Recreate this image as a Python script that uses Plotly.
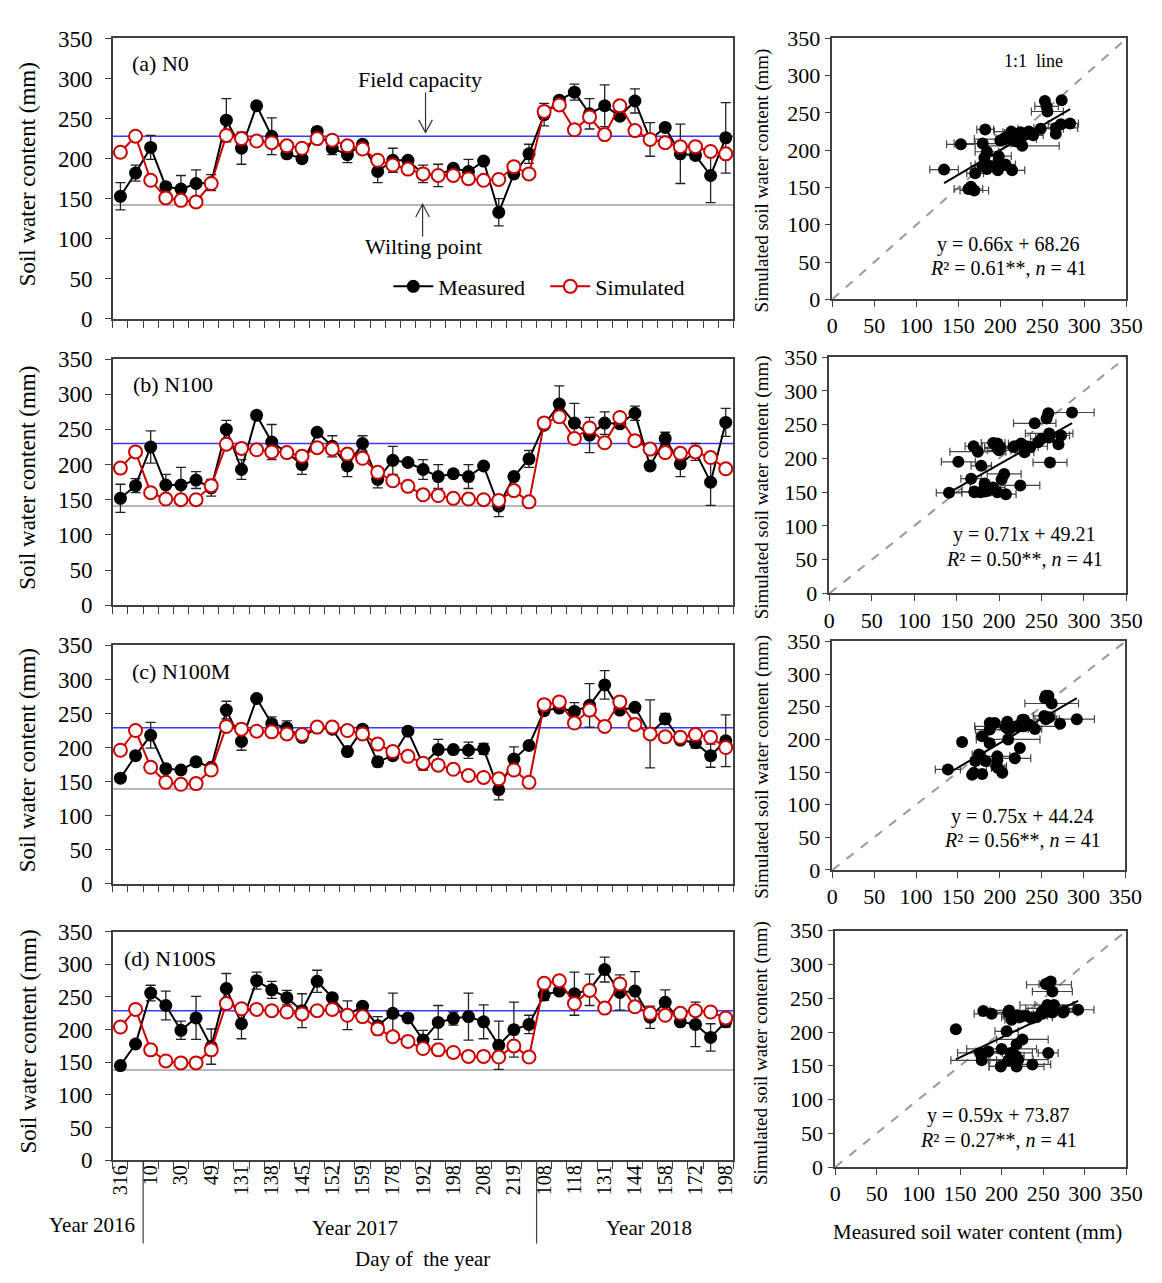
import plotly.graph_objects as go

W, H = 1162, 1283

# ---------------- data ----------------
SAMPLE_INDEX = list(range(1, 42))
DAY_LABELS = ["316", "10", "30", "49", "131", "138", "145", "152", "159", "178", "192",
              "198", "208", "219", "108", "118", "131", "144", "158", "172", "198"]
YEAR_BOUNDARIES = [2.5, 28.5]

N0_MEAS = [153, 182, 214, 165, 162, 169, 170, 248, 213, 266, 228, 206, 200, 234, 213, 205, 218, 184, 198, 198,
           181, 179, 188, 184, 197, 133, 181, 206, 255, 273, 283, 256, 266, 253, 272, 224, 239, 206, 204, 179, 226]
N0_SIM = [208, 228, 173, 151, 148, 146, 169, 229, 225, 222, 220, 216, 213, 225, 223, 216, 212, 198, 192, 187,
          181, 179, 179, 175, 173, 174, 190, 181, 259, 267, 236, 252, 230, 266, 235, 224, 220, 215, 215, 209, 206]
N0_SD = [17, 10, 15, 3, 17, 17, 10, 27, 20, 3, 23, 5, 3, 5, 8, 10, 4, 14, 15, 3,
         11, 14, 3, 15, 3, 17, 3, 12, 14, 3, 10, 19, 26, 3, 15, 21, 3, 37, 5, 34, 44]

N100_MEAS = [152, 170, 225, 171, 171, 178, 167, 250, 193, 270, 232, 217, 200, 246, 226, 198, 230, 179, 206, 203,
             193, 183, 187, 183, 198, 141, 183, 208, 256, 286, 259, 242, 259, 258, 273, 198, 237, 201, 218, 175, 260]
N100_SIM = [195, 218, 160, 151, 150, 150, 170, 229, 223, 221, 218, 217, 212, 224, 222, 215, 209, 189, 177, 169,
            157, 156, 152, 151, 150, 149, 163, 147, 259, 268, 237, 252, 231, 267, 234, 222, 217, 216, 218, 210, 194]
N100_SD = [20, 10, 23, 15, 25, 12, 12, 13, 14, 5, 25, 3, 14, 3, 15, 15, 11, 12, 20, 3,
           14, 17, 3, 17, 3, 15, 3, 12, 3, 26, 28, 25, 16, 5, 10, 5, 9, 18, 12, 33, 20]

N100M_MEAS = [155, 188, 218, 169, 167, 179, 171, 255, 209, 272, 235, 229, 215, 229, 227, 194, 227, 179, 188, 224,
              175, 197, 197, 196, 198, 138, 183, 203, 254, 258, 253, 262, 292, 255, 259, 220, 242, 211, 207, 188, 210]
N100M_SIM = [196, 225, 171, 149, 146, 147, 167, 231, 227, 224, 223, 220, 219, 230, 230, 225, 220, 205, 194, 187,
             177, 174, 168, 159, 156, 154, 167, 149, 263, 267, 236, 255, 231, 267, 234, 220, 216, 215, 219, 215, 200]
N100M_SD = [5, 3, 19, 3, 3, 3, 3, 13, 13, 3, 10, 10, 3, 5, 3, 3, 3, 7, 3, 3,
            8, 15, 3, 12, 8, 15, 18, 3, 3, 3, 13, 32, 21, 5, 3, 50, 8, 3, 8, 17, 38]

N100S_MEAS = [145, 178, 256, 237, 199, 218, 174, 263, 209, 275, 261, 249, 229, 274, 249, 222, 236, 206, 225, 218,
              184, 211, 217, 220, 212, 176, 200, 208, 253, 259, 255, 261, 292, 257, 259, 219, 242, 212, 208, 188, 212]
N100S_SIM = [204, 231, 169, 152, 149, 149, 169, 240, 232, 231, 229, 227, 224, 229, 231, 222, 220, 201, 189, 182,
             171, 169, 165, 159, 159, 158, 175, 158, 271, 275, 240, 260, 233, 270, 235, 225, 222, 225, 229, 227, 218]
N100S_SD = [3, 3, 12, 22, 14, 33, 27, 23, 23, 13, 13, 11, 26, 17, 3, 22, 3, 14, 31, 5,
            15, 26, 10, 36, 26, 37, 42, 14, 8, 5, 33, 24, 19, 27, 30, 17, 19, 3, 34, 21, 8]

PANEL_LABELS = ["(a) N0", "(b) N100", "(c) N100M", "(d) N100S"]
SLOPES = [0.66, 0.71, 0.75, 0.59]
INTERCEPTS = [68.26, 49.21, 44.24, 73.87]
R2_TEXT = ["0.61", "0.50", "0.56", "0.27"]
N_OBS = 41
FIELD_CAPACITY = [228, 230, 229, 229]
WILTING_POINT = [142, 141, 139, 138]
ONE_TO_ONE = [0, 350]

MEAS = [N0_MEAS, N100_MEAS, N100M_MEAS, N100S_MEAS]
SIM = [N0_SIM, N100_SIM, N100M_SIM, N100S_SIM]
SD = [N0_SD, N100_SD, N100M_SD, N100S_SD]

# ---------------- layout geometry (pixels) ----------------
TS_X = (109, 742)
TS_Y = [(27, 313), (354, 605), (646, 889), (938, 1171)]
SC_X = [(843, 1143), (840, 1143), (843, 1142), (846, 1143)]
SC_Y = [(27, 293), (352, 593), (642, 875), (937, 1178)]


def fx(px):
    return px / W


def fy(py):
    return 1 - py / H


def ax_id(n):
    return "" if n == 1 else str(n)


FONT = "Liberation Serif, Times New Roman, serif"
RED = "#cc0000"
AX_COLOR = "#404040"

fig = go.Figure()
layout = dict(
    width=W, height=H, margin=dict(l=0, r=0, t=0, b=0),
    paper_bgcolor="white", plot_bgcolor="white",
    font=dict(family=FONT, size=22, color="black"),
    showlegend=True,
)
shapes = []
annotations = []

yticks = list(range(0, 351, 50))

for i in range(4):
    tsn = 2 * i + 1
    scn = 2 * i + 2
    xa_ts, ya_ts = f"x{ax_id(tsn)}", f"y{ax_id(tsn)}"
    xa_sc, ya_sc = f"x{ax_id(scn)}", f"y{ax_id(scn)}"

    # --- time series axes ---
    layout[f"xaxis{ax_id(tsn)}"] = dict(
        domain=[fx(TS_X[0]), fx(TS_X[1])], anchor=ya_ts, range=[0.5, 41.5],
        tickmode="array", tickvals=[k + 0.5 for k in range(42)], showticklabels=False,
        ticks="outside", ticklen=7, tickcolor=AX_COLOR, tickwidth=1,
        showline=True, mirror=True, linecolor=AX_COLOR, linewidth=1.5,
        showgrid=False, zeroline=False)
    layout[f"yaxis{ax_id(tsn)}"] = dict(
        domain=[fy(TS_Y[i][1]), fy(TS_Y[i][0])], anchor=xa_ts, range=[0, 350],
        tickmode="array", tickvals=yticks, ticks="outside", ticklen=6,
        tickcolor=AX_COLOR, tickfont=dict(size=23), ticklabelstandoff=8,
        showline=True, mirror=True, linecolor=AX_COLOR, linewidth=1.5,
        showgrid=False, zeroline=False)

    # --- scatter axes ---
    layout[f"xaxis{ax_id(scn)}"] = dict(
        domain=[fx(SC_X[i][0]), fx(SC_X[i][1])], anchor=ya_sc, range=[0, 350],
        tickmode="array", tickvals=yticks, ticks="outside", ticklen=6,
        tickcolor=AX_COLOR, tickfont=dict(size=22),
        showline=True, mirror=True, linecolor=AX_COLOR, linewidth=1.5,
        showgrid=False, zeroline=False)
    layout[f"yaxis{ax_id(scn)}"] = dict(
        domain=[fy(SC_Y[i][1]), fy(SC_Y[i][0])], anchor=xa_sc, range=[0, 350],
        tickmode="array", tickvals=yticks, ticks="outside", ticklen=6,
        tickcolor=AX_COLOR, tickfont=dict(size=22),
        showline=True, mirror=True, linecolor=AX_COLOR, linewidth=1.5,
        showgrid=False, zeroline=False)

    # --- reference lines ---
    shapes.append(dict(type="line", xref=f"{xa_ts} domain", yref=ya_ts, x0=0, x1=1,
                       y0=FIELD_CAPACITY[i], y1=FIELD_CAPACITY[i],
                       line=dict(color="#3a3aff", width=1.5), layer="below"))
    shapes.append(dict(type="line", xref=f"{xa_ts} domain", yref=ya_ts, x0=0, x1=1,
                       y0=WILTING_POINT[i], y1=WILTING_POINT[i],
                       line=dict(color="#b8b8b8", width=2), layer="below"))

    # --- time series traces ---
    fig.add_trace(go.Scatter(
        x=SAMPLE_INDEX, y=MEAS[i], mode="lines+markers", name="Measured",
        xaxis=xa_ts, yaxis=ya_ts, showlegend=(i == 0), legendgroup="m",
        line=dict(color="black", width=2),
        marker=dict(color="black", size=13, symbol="circle"),
        error_y=dict(type="data", array=SD[i], visible=True, color="#222222",
                     thickness=1.3, width=5)))
    fig.add_trace(go.Scatter(
        x=SAMPLE_INDEX, y=SIM[i], mode="lines+markers", name="Simulated",
        xaxis=xa_ts, yaxis=ya_ts, showlegend=(i == 0), legendgroup="s",
        line=dict(color=RED, width=2),
        marker=dict(color="white", size=13, symbol="circle",
                    line=dict(color=RED, width=2))))

    # --- scatter traces ---
    fig.add_trace(go.Scatter(
        x=ONE_TO_ONE, y=ONE_TO_ONE, mode="lines", xaxis=xa_sc, yaxis=ya_sc,
        showlegend=False, line=dict(color="#999999", width=2, dash="dash"),
        hoverinfo="skip"))
    fig.add_trace(go.Scatter(
        x=MEAS[i], y=SIM[i], mode="markers", xaxis=xa_sc, yaxis=ya_sc,
        showlegend=False, marker=dict(color="black", size=12),
        error_x=dict(type="data", array=SD[i], visible=True, color="#444444",
                     thickness=1.2, width=4)))
    xmin, xmax = min(MEAS[i]), max(MEAS[i])
    fig.add_trace(go.Scatter(
        x=[xmin, xmax], y=[SLOPES[i] * xmin + INTERCEPTS[i], SLOPES[i] * xmax + INTERCEPTS[i]],
        mode="lines", xaxis=xa_sc, yaxis=ya_sc, showlegend=False,
        line=dict(color="black", width=2), hoverinfo="skip"))

    # --- text ---
    lab_pos = [(127, 53), (128, 380), (127, 673), (118, 965)][i]
    annotations.append(dict(text=PANEL_LABELS[i], x=fx(lab_pos[0]), y=fy(lab_pos[1]),
                            xref="paper", yref="paper", xanchor="left", yanchor="middle",
                            showarrow=False, font=dict(size=22)))
    annotations.append(dict(text="Soil water content (mm)", x=fx(22),
                            y=fy((TS_Y[i][0] + TS_Y[i][1]) / 2 - 4),
                            xref="paper", yref="paper", textangle=-90, showarrow=False,
                            xanchor="center", yanchor="middle", font=dict(size=23)))
    annotations.append(dict(text="Simulated soil water content (mm)", x=fx(771),
                            y=fy([172, 485, 770, 1062][i]),
                            xref="paper", yref="paper", textangle=-90, showarrow=False,
                            xanchor="center", yanchor="middle", font=dict(size=19)))
    eq_pos = [(1023, 237, 261), (1039, 533, 558), (1037, 820, 844), (1013, 1125, 1150)][i]
    annotations.append(dict(text=f"y = {SLOPES[i]:.2f}x + {INTERCEPTS[i]:.2f}",
                            x=fx(eq_pos[0]), y=fy(eq_pos[1]), xref="paper", yref="paper",
                            showarrow=False, xanchor="center", yanchor="middle",
                            font=dict(size=20)))
    annotations.append(dict(text=f"<i>R</i>² = {R2_TEXT[i]}**, <i>n</i> = {N_OBS}",
                            x=fx(eq_pos[0]), y=fy(eq_pos[2]), xref="paper", yref="paper",
                            showarrow=False, xanchor="center", yanchor="middle",
                            font=dict(size=20)))

# overlay axis carrying day-of-year labels on the bottom panel
layout["xaxis9"] = dict(
    overlaying="x7", anchor="y7", range=[0.5, 41.5], tickmode="array",
    tickvals=SAMPLE_INDEX[::2], ticktext=DAY_LABELS, tickangle=-90,
    ticks="", showline=False, showgrid=False, zeroline=False,
    tickfont=dict(size=20))
fig.add_trace(go.Scatter(x=[1], y=[0], xaxis="x9", yaxis="y7", mode="markers",
                         marker=dict(opacity=0), showlegend=False, hoverinfo="skip"))

# year separators
for xb in YEAR_BOUNDARIES:
    shapes.append(dict(type="line", xref="x7", yref="paper", x0=xb, x1=xb,
                       y0=fy(1171), y1=fy(1256), line=dict(color=AX_COLOR, width=1.2)))


# arrows for field capacity / wilting point
def vpath(points):
    return "M " + " L ".join(f"{fx(a):.5f},{fy(b):.5f}" for a, b in points)


shapes.append(dict(type="path", xref="paper", yref="paper", path=vpath([(428, 82), (428, 123)]),
                   line=dict(color="#333", width=1.2)))
shapes.append(dict(type="path", xref="paper", yref="paper",
                   path=vpath([(421, 110), (428, 123), (435, 110)]), line=dict(color="#333", width=1.2)))
shapes.append(dict(type="path", xref="paper", yref="paper", path=vpath([(425, 229), (425, 196)]),
                   line=dict(color="#333", width=1.2)))
shapes.append(dict(type="path", xref="paper", yref="paper",
                   path=vpath([(418, 209), (425, 196), (432, 209)]), line=dict(color="#333", width=1.2)))

extra_text = [
    ("Field capacity", 422, 69, 22),
    ("Wilting point", 426, 239, 22),
    ("Year 2016", 88, 1237, 21),
    ("Year 2017", 356, 1240, 21),
    ("Year 2018", 656, 1240, 21),
    ("Day of  the year", 425, 1272, 21),
    ("Measured soil water content (mm)", 991, 1244, 21),
    ("1:1  line", 1048, 50, 18),
]
for txt, px, py, sz in extra_text:
    annotations.append(dict(text=txt, x=fx(px), y=fy(py), xref="paper", yref="paper",
                            showarrow=False, xanchor="center", yanchor="middle",
                            font=dict(size=sz)))

layout["shapes"] = shapes
layout["annotations"] = annotations
layout["legend"] = dict(orientation="h", x=fx(390), y=fy(280), xanchor="left", yanchor="middle",
                        bgcolor="rgba(0,0,0,0)", font=dict(size=22), itemwidth=40,
                        entrywidth=102, tracegroupgap=0)
fig.update_layout(**layout)
fig.write_html("out.html")
